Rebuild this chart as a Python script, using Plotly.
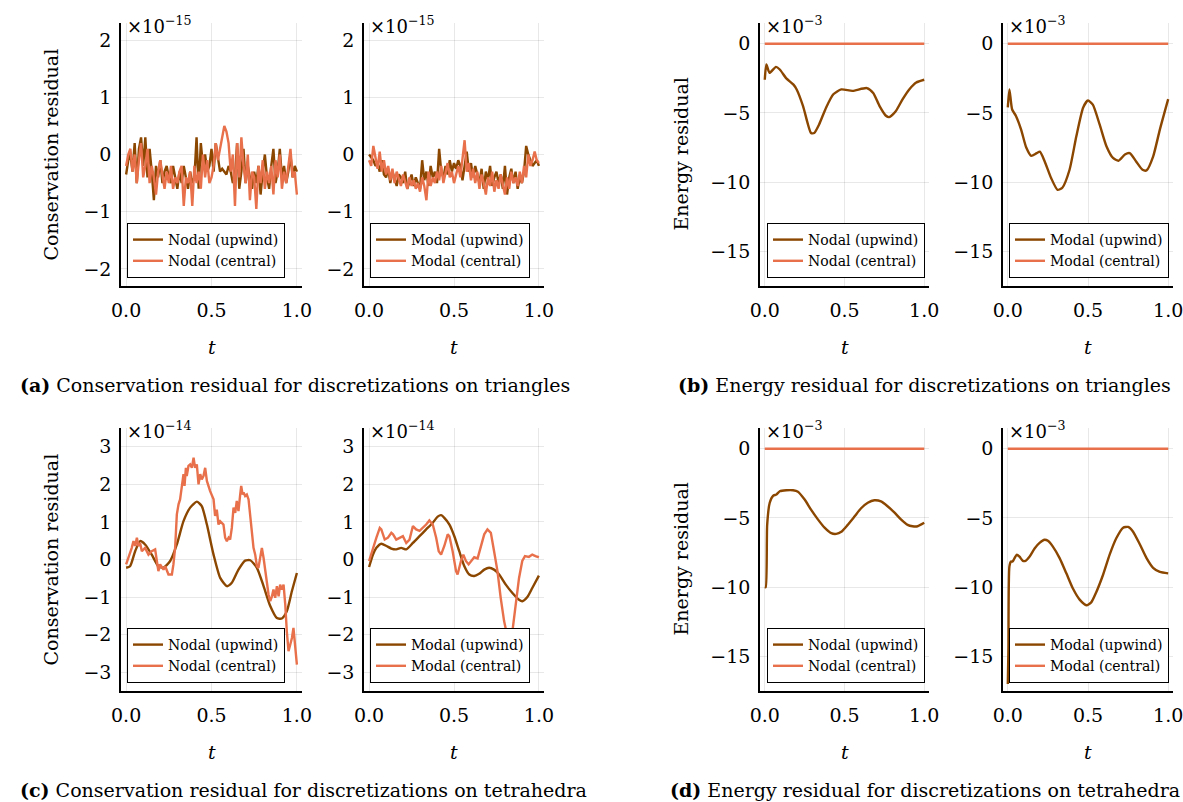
import numpy as np
import plotly.graph_objects as go

# ---------------- data ----------------
# (a) conservation residual, triangles (units of 1e-15)
t_tri = np.linspace(0.0, 1.0, 81)
a_nodal_upwind = [-0.35,
    -0.1, 0.0, -0.3, 0.2, -0.5, 0.1, 0.3, -0.2, 0.3, -0.4,
    0.1, -0.3, -0.8, -0.2, -0.4, -0.1, -0.5, -0.3, -0.2, -0.4,
    -0.5, -0.2, -0.4, -0.6, -0.3, -0.5, -0.2, -0.4, -0.6, -0.3,
    -0.5, -0.4, 0.3, -0.6, 0.2, -0.2, 0.0, -0.3, -0.2, 0.1,
    -0.3, 0.2, -0.1, -0.3, -0.25, -0.3, -0.35, -0.2, -0.3, -0.5,
    -0.4, 0.2, -0.6, -0.3, 0.1, -0.5, -0.2, -0.4, -0.6, -0.3,
    -0.5, -0.2, -0.7, -0.3, 0.0, -0.4, -0.6, -0.2, 0.1, -0.5,
    -0.3, 0.1, -0.4, -0.2, -0.5, -0.3, 0.0, -0.4, -0.2, -0.3]
a_nodal_central = [-0.2,
    0.0, 0.1, -0.3, 0.0, -0.5, -0.1, 0.2, -0.4, -0.2, 0.1,
    -0.5, -0.2, -0.4, -0.7, -0.3, -0.1, -0.4, -0.6, -0.3, -0.5,
    -0.2, -0.6, -0.4, -0.5, -0.3, -0.2, -0.9, -0.4, -0.5, -0.3,
    -0.9, -0.2, -0.5, -0.3, -0.6, 0.0, -0.4, -0.1, -0.5, -0.4,
    -0.2, 0.2, -0.1, 0.1, 0.3, 0.5, 0.4, 0.2, -0.3, 0.0,
    -0.9, 0.2, -0.4, 0.3, -0.2, -0.5, 0.0, -0.8, -0.3, -0.4,
    -0.95, -0.2, -0.5, -0.1, -0.6, -0.3, -0.5, -0.2, -0.7, -0.1,
    -0.4, 0.0, -0.6, -0.3, -0.5, -0.2, 0.1, -0.4, -0.3, -0.7]
a_modal_upwind = [0.0,
    -0.05, -0.1, -0.2, -0.15, -0.3, -0.1, -0.35, -0.4, -0.25, -0.5,
    -0.3, -0.45, -0.55, -0.35, -0.4, -0.5, -0.3, -0.6, -0.45, -0.35,
    -0.55, -0.4, -0.5, -0.6, -0.1, -0.45, -0.3, -0.55, -0.2, -0.4,
    -0.3, -0.5, 0.1, -0.3, -0.4, -0.2, -0.35, -0.1, -0.3, -0.15,
    -0.25, -0.1, -0.2, -0.45, -0.2, 0.05, -0.3, -0.15, -0.4, -0.2,
    -0.35, -0.5, -0.25, -0.6, -0.3, -0.45, -0.2, -0.55, -0.4, -0.3,
    -0.5, -0.35, -0.6, -0.2, -0.7, -0.4, -0.25, -0.5, -0.3, -0.6,
    -0.4, -0.5, -0.3, 0.15, 0.0, -0.1, -0.2, -0.15, -0.1, -0.2]
a_modal_central = [-0.1,
    -0.2, 0.15, -0.05, -0.25, 0.05, -0.3, -0.1, -0.35, -0.2, -0.45,
    -0.25, -0.5, -0.3, -0.45, -0.55, -0.35, -0.5, -0.6, -0.4, -0.55,
    -0.45, -0.6, -0.5, -0.65, -0.4, -0.55, -0.8, -0.3, -0.55, -0.4,
    -0.5, -0.3, -0.45, -0.2, -0.5, -0.35, -0.15, -0.4, -0.3, -0.5,
    -0.35, -0.2, -0.4, -0.1, 0.25, -0.3, -0.15, -0.45, -0.25, -0.5,
    -0.3, -0.6, -0.35, -0.5, -0.7, -0.4, -0.55, -0.3, -0.65, -0.45,
    -0.6, -0.35, -0.55, -0.7, -0.4, -0.6, -0.3, -0.5, -0.4, -0.55,
    -0.3, -0.5, -0.2, -0.4, 0.0, -0.2, -0.1, 0.05, -0.1, -0.15]

# (b) energy residual, triangles (units of 1e-3)
b_nodal_t = [0.0, 0.01, 0.03, 0.07, 0.094, 0.135, 0.18, 0.2, 0.24, 0.29, 0.31, 0.34, 0.385,
             0.43, 0.48, 0.55, 0.64, 0.68, 0.72, 0.76, 0.78, 0.82, 0.865, 0.906, 0.95, 1.0]
b_nodal_upwind = [-2.6, -1.5, -2.1, -1.67, -1.86, -2.5, -2.95, -3.3, -4.5, -6.45, -6.45, -5.85, -4.6,
                  -3.65, -3.3, -3.4, -3.2, -3.55, -4.5, -5.2, -5.3, -4.9, -4.0, -3.3, -2.8, -2.6]
b_modal_t = [0.0, 0.01, 0.027, 0.05, 0.083, 0.115, 0.146, 0.18, 0.2, 0.23, 0.27, 0.31, 0.34, 0.385,
             0.427, 0.47, 0.5, 0.53, 0.573, 0.615, 0.656, 0.69, 0.73, 0.76, 0.8, 0.84, 0.865, 0.906,
             0.948, 1.0]
b_modal_upwind = [-4.6, -3.3, -4.75, -5.2, -6.2, -7.5, -8.1, -7.9, -7.8, -8.5, -9.7, -10.55, -10.4, -9.1,
                  -6.7, -4.6, -4.1, -4.4, -5.85, -7.4, -8.25, -8.45, -8.0, -7.9, -8.5, -9.1, -9.15, -8.15,
                  -6.2, -4.0]
central_energy_t = [0.0, 1.0]
central_energy = [0.0, 0.0]

# (c) conservation residual, tetrahedra (units of 1e-14)
c_nodal_up_t = [0.0, 0.023, 0.053, 0.082, 0.111, 0.150, 0.189, 0.219, 0.258, 0.297, 0.336, 0.375, 0.414,
                0.443, 0.473, 0.512, 0.551, 0.590, 0.619, 0.658, 0.697, 0.727, 0.766, 0.805, 0.844,
                0.883, 0.912, 0.941, 0.971, 1.0]
c_nodal_upwind = [-0.22, -0.18, 0.22, 0.49, 0.40, 0.13, -0.18, -0.22, -0.04, 0.40, 1.02, 1.38, 1.54,
                  1.42, 0.93, 0.13, -0.49, -0.71, -0.62, -0.27, -0.03, -0.02, -0.22, -0.71, -1.24,
                  -1.56, -1.57, -1.38, -0.84, -0.36]
c_nodal_ce_t = [0.000, 0.014, 0.033, 0.043, 0.053, 0.063, 0.072, 0.082, 0.092, 0.111,
                0.131, 0.150, 0.170, 0.180, 0.189, 0.199, 0.219, 0.229, 0.248, 0.268,
                0.277, 0.287, 0.297, 0.307, 0.316, 0.336, 0.342, 0.350, 0.355, 0.365,
                0.375, 0.385, 0.395, 0.404, 0.414, 0.424, 0.434, 0.443, 0.453, 0.463,
                0.473, 0.492, 0.502, 0.512, 0.521, 0.531, 0.541, 0.551, 0.570, 0.580,
                0.590, 0.600, 0.609, 0.619, 0.629, 0.639, 0.648, 0.658, 0.668, 0.674,
                0.682, 0.688, 0.697, 0.707, 0.717, 0.727, 0.736, 0.746, 0.756, 0.766,
                0.775, 0.785, 0.795, 0.805, 0.814, 0.824, 0.834, 0.844, 0.854, 0.863,
                0.873, 0.883, 0.893, 0.902, 0.912, 0.922, 0.932, 0.941, 0.951, 0.961,
                0.971, 0.980, 0.990, 1.000]
c_nodal_central = [-0.13, 0.04, 0.31, 0.49, 0.36, 0.58, 0.36, 0.44, 0.22, 0.31,
                   0.13, 0.22, 0.27, -0.04, -0.31, -0.13, -0.27, -0.18, -0.40, -0.40,
                   -0.13, 0.31, 1.20, 1.47, 1.60, 2.27, 1.96, 2.44, 2.22, 2.49,
                   2.53, 2.44, 2.71, 2.44, 2.53, 2.00, 2.27, 2.13, 2.22, 2.44,
                   2.09, 1.82, 1.73, 1.60, 1.16, 1.33, 0.93, 1.02, 0.93, 0.58,
                   0.49, 0.58, 0.53, 0.84, 1.38, 1.24, 1.56, 1.29, 1.73, 1.96,
                   1.73, 1.78, 1.69, 1.73, 1.60, 1.20, 0.76, 0.31, 0.13, -0.18,
                   -0.22, 0.04, 0.31, 0.04, -0.31, -0.58, -0.93, -1.11, -0.98, -0.80,
                   -1.02, -0.71, -0.98, -0.67, -0.80, -0.67, -1.20, -1.91, -2.44, -2.27,
                   -2.09, -1.82, -2.27, -2.80]
c_modal_up_t = [0.000, 0.023, 0.043, 0.072, 0.102, 0.131, 0.160, 0.189, 0.219, 0.258, 0.297, 0.336,
                0.375, 0.404, 0.424, 0.443, 0.473, 0.502, 0.531, 0.561, 0.590, 0.619, 0.648, 0.678,
                0.707, 0.736, 0.766, 0.805, 0.844, 0.883, 0.902, 0.932, 0.961, 1.000]
c_modal_upwind = [-0.20, 0.13, 0.31, 0.42, 0.36, 0.29, 0.27, 0.31, 0.27, 0.44, 0.62, 0.80,
                  0.98, 1.14, 1.18, 1.11, 0.93, 0.62, 0.22, -0.18, -0.40, -0.44, -0.38, -0.27,
                  -0.22, -0.27, -0.40, -0.67, -0.89, -1.07, -1.11, -1.00, -0.76, -0.43]
c_modal_ce_t = [0.000, 0.023, 0.043, 0.063, 0.072, 0.092, 0.111, 0.131, 0.141, 0.160,
                0.180, 0.199, 0.219, 0.238, 0.258, 0.277, 0.297, 0.316, 0.336, 0.355,
                0.375, 0.395, 0.410, 0.424, 0.443, 0.463, 0.473, 0.492, 0.512, 0.521,
                0.541, 0.555, 0.570, 0.586, 0.600, 0.619, 0.639, 0.658, 0.678, 0.697,
                0.717, 0.736, 0.756, 0.775, 0.795, 0.814, 0.828, 0.844, 0.863, 0.883,
                0.902, 0.918, 0.941, 0.961, 0.980, 1.000]
c_modal_central = [-0.04, 0.31, 0.58, 0.84, 0.80, 0.53, 0.58, 0.71, 0.67, 0.53,
                   0.58, 0.62, 0.44, 0.53, 0.89, 0.80, 0.76, 0.84, 0.93, 1.04,
                   0.93, 0.58, 0.22, 0.13, 0.36, 0.67, 0.62, 0.22, -0.31, -0.40,
                   -0.04, 0.13, -0.04, -0.13, -0.04, 0.06, 0.03, 0.31, 0.67, 0.80,
                   0.71, 0.22, -0.31, -1.02, -1.64, -2.04, -2.18, -1.91, -1.20, -0.49,
                   -0.04, 0.09, 0.07, 0.13, 0.09, 0.06]

# (d) energy residual, tetrahedra (units of 1e-3)
d_nodal_t = [0.0, 0.006, 0.015, 0.031, 0.052, 0.073, 0.094, 0.135, 0.177, 0.208, 0.25, 0.29, 0.333,
             0.375, 0.417, 0.448, 0.48, 0.52, 0.5625, 0.604, 0.646, 0.6875, 0.729, 0.77, 0.8125,
             0.854, 0.896, 0.927, 0.958, 1.0]
d_nodal_upwind = [-10.0, -10.0, -5.5, -3.9, -3.4, -3.3, -3.07, -3.0, -3.0, -3.1, -3.67, -4.4, -5.1,
                  -5.7, -6.1, -6.15, -6.0, -5.5, -4.9, -4.3, -3.9, -3.72, -3.8, -4.15, -4.6,
                  -5.1, -5.5, -5.6, -5.6, -5.35]
d_modal_t = [0.0, 0.004, 0.01, 0.02, 0.03, 0.042, 0.056, 0.073, 0.094, 0.11, 0.135, 0.167, 0.198,
             0.229, 0.25, 0.28, 0.323, 0.365, 0.406, 0.448, 0.49, 0.52, 0.55, 0.594, 0.635, 0.677,
             0.719, 0.75, 0.78, 0.823, 0.865, 0.906, 0.948, 1.0]
d_modal_upwind = [-17.0, -14.4, -8.5, -8.15, -8.15, -7.9, -7.65, -7.8, -8.1, -8.1, -7.8, -7.2, -6.8,
                  -6.57, -6.65, -7.05, -7.9, -9.0, -10.1, -10.9, -11.3, -11.1, -10.4, -9.1, -7.65, -6.45,
                  -5.7, -5.65, -5.97, -6.9, -7.9, -8.6, -8.9, -9.0]

x_tickvals = [0.0, 0.5, 1.0]
x_ticktext = ["0.0", "0.5", "1.0"]
cons_tri_ticks = [-2, -1, 0, 1, 2]
cons_tet_ticks = [-3, -2, -1, 0, 1, 2, 3]
energy_ticks = [-15, -10, -5, 0]

captions = [
    "<b>(a)</b> Conservation residual for discretizations on triangles",
    "<b>(b)</b> Energy residual for discretizations on triangles",
    "<b>(c)</b> Conservation residual for discretizations on tetrahedra",
    "<b>(d)</b> Energy residual for discretizations on tetrahedra",
]

# ---------------- styling ----------------
W, H = 1183, 802
FONT = "DejaVu Serif"
UP_COLOR = "#8b4600"
CE_COLOR = "#e8714b"
GRID = "rgba(0,0,0,0.09)"


def fx(p):
    return p / W


def fy(p):
    return 1 - p / H


col_px = [(121, 302), (364, 544), (760, 929), (1003, 1173)]
row_px = [(23, 286), (428, 691)]

panels = [
    (0, 0, t_tri, a_nodal_upwind, t_tri, a_nodal_central, "Nodal", [-2.3, 2.3], cons_tri_ticks, "−15", "left", False),
    (0, 1, t_tri, a_modal_upwind, t_tri, a_modal_central, "Modal", [-2.3, 2.3], cons_tri_ticks, "−15", "left", False),
    (0, 2, b_nodal_t, b_nodal_upwind, central_energy_t, central_energy, "Nodal", [-17.5, 1.5], energy_ticks, "−3", "right", True),
    (0, 3, b_modal_t, b_modal_upwind, central_energy_t, central_energy, "Modal", [-17.5, 1.5], energy_ticks, "−3", "right", True),
    (1, 0, c_nodal_up_t, c_nodal_upwind, c_nodal_ce_t, c_nodal_central, "Nodal", [-3.5, 3.5], cons_tet_ticks, "−14", "left", True),
    (1, 1, c_modal_up_t, c_modal_upwind, c_modal_ce_t, c_modal_central, "Modal", [-3.5, 3.5], cons_tet_ticks, "−14", "left", True),
    (1, 2, d_nodal_t, d_nodal_upwind, central_energy_t, central_energy, "Nodal", [-17.5, 1.5], energy_ticks, "−3", "right", True),
    (1, 3, d_modal_t, d_modal_upwind, central_energy_t, central_energy, "Modal", [-17.5, 1.5], energy_ticks, "−3", "right", True),
]

fig = go.Figure()
layout = dict(
    width=W, height=H,
    margin=dict(l=0, r=0, t=0, b=0, autoexpand=False),
    paper_bgcolor="white", plot_bgcolor="white",
    font=dict(family=FONT, color="black", size=18),
    annotations=[],
)

for i, (r, c, ut, uv, ct, cv, lab, yr, yt, ex, side, smooth) in enumerate(panels):
    k = i + 1
    xs = "" if k == 1 else str(k)
    leg = "legend" if k == 1 else f"legend{k}"
    x0, x1 = col_px[c]
    y0, y1 = row_px[r]
    line_up = dict(color=UP_COLOR, width=2.4)
    line_ce = dict(color=CE_COLOR, width=2.4)
    if smooth:
        line_up.update(shape="spline", smoothing=0.6)
    fig.add_trace(go.Scatter(x=ut, y=uv, mode="lines", line=line_up, name=f"{lab} (upwind)",
                             xaxis=f"x{xs}", yaxis=f"y{xs}", legend=leg))
    fig.add_trace(go.Scatter(x=ct, y=cv, mode="lines", line=line_ce, name=f"{lab} (central)",
                             xaxis=f"x{xs}", yaxis=f"y{xs}", legend=leg))
    axis_common = dict(showgrid=True, gridcolor=GRID, gridwidth=1, zeroline=False,
                       showline=True, linecolor="black", linewidth=1.6, ticks="",
                       automargin=False, ticklabeloverflow="allow",
                       tickfont=dict(family=FONT, size=19), fixedrange=True)
    layout[f"xaxis{xs}"] = dict(domain=[fx(x0), fx(x1)], range=[-0.03, 1.03], anchor=f"y{xs}",
                                tickvals=x_tickvals, ticktext=x_ticktext, ticklabelstandoff=6,
                                **axis_common)
    layout[f"yaxis{xs}"] = dict(domain=[fy(y1), fy(y0)], range=yr, anchor=f"x{xs}",
                                tickvals=yt, ticklabelstandoff=4, **axis_common)
    if side == "left":
        lx, lxa = fx(x0 + 6), "left"
    else:
        lx, lxa = fx(x1 - 4), "right"
    layout[leg] = dict(x=lx, xanchor=lxa, y=fy(y1 - 8), yanchor="bottom",
                       bgcolor="white", bordercolor="black", borderwidth=1,
                       font=dict(family=FONT, size=14), itemwidth=30, tracegroupgap=0,
                       traceorder="normal")
    layout["annotations"].append(dict(
        text=f"×10<sup>{ex}</sup>", x=fx(x0 + 4), y=fy(y0 - 12), xref="paper", yref="paper",
        xanchor="left", yanchor="top", showarrow=False, font=dict(family=FONT, size=18)))
    layout["annotations"].append(dict(
        text="<i>t</i>", x=fx((x0 + x1) / 2), y=fy(y1 + 61), xref="paper", yref="paper",
        xanchor="center", yanchor="middle", showarrow=False, font=dict(family=FONT, size=19)))

for r, (y0, y1) in enumerate(row_px):
    for xc, txt in [(50, "Conservation residual"), (680, "Energy residual")]:
        layout["annotations"].append(dict(
            text=txt, x=fx(xc), y=fy((y0 + y1) / 2), xref="paper", yref="paper",
            xanchor="center", yanchor="middle", textangle=-90, showarrow=False,
            font=dict(family=FONT, size=19)))

cap_pos = [(18, 385), (676, 385), (18, 790), (668, 790)]
for txt, (cx, cy) in zip(captions, cap_pos):
    layout["annotations"].append(dict(
        text=txt, x=fx(cx), y=fy(cy), xref="paper", yref="paper",
        xanchor="left", yanchor="middle", showarrow=False, font=dict(family=FONT, size=19)))

fig.update_layout(**layout)
fig.write_html("out.html", config={"displayModeBar": False},
               post_script="document.body.style.margin='0px';document.body.style.overflow='hidden';")
